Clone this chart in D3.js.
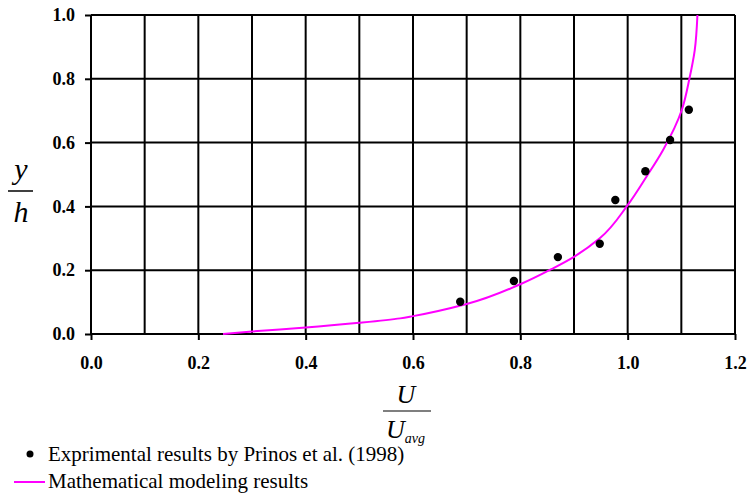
<!DOCTYPE html>
<html>
<head>
<meta charset="utf-8">
<script src="https://cdn.jsdelivr.net/npm/d3@7"></script>
<style>
  body { margin: 0; background: #fff; }
  svg { display: block; }
</style>
</head>
<body>
<div id="chart"></div>
<script>
// measured points (Prinos et al. 1998)
const expU = [0.688, 0.788, 0.870, 0.948, 0.977, 1.033, 1.079, 1.114];
const expY = [0.101, 0.166, 0.241, 0.283, 0.420, 0.510, 0.608, 0.703];

// model curve
const modelU = [0.246, 0.30, 0.40, 0.50, 0.576, 0.60, 0.70, 0.80, 0.861, 0.90, 0.948, 1.00, 1.035, 1.066, 1.101, 1.115, 1.125, 1.130];
const modelY = [0.0, 0.008, 0.020, 0.035, 0.049, 0.056, 0.094, 0.156, 0.206, 0.242, 0.300, 0.404, 0.493, 0.577, 0.703, 0.800, 0.890, 1.0];

const xTicks = [0.0, 0.2, 0.4, 0.6, 0.8, 1.0, 1.2];
const yTicks = [0.0, 0.2, 0.4, 0.6, 0.8, 1.0];
const xGrid = d3.range(0, 1.21, 0.1);

const legendLabels = ['Exprimental results by Prinos et al. (1998)', 'Mathematical modeling results'];

const width = 751, height = 493;
const plotL = 91, plotR = 735, plotT = 15, plotB = 334;
const serif = 'Liberation Serif, Times New Roman, serif';

const svg = d3.select('#chart').append('svg')
  .attr('width', width)
  .attr('height', height)
  .attr('font-family', serif);

const x = d3.scaleLinear().domain([0, 1.2]).range([plotL, plotR]);
const y = d3.scaleLinear().domain([0, 1]).range([plotB, plotT]);

// grid
svg.append('g').selectAll('line')
  .data(xGrid)
  .enter().append('line')
  .attr('x1', d => x(d)).attr('x2', d => x(d))
  .attr('y1', plotT).attr('y2', plotB)
  .attr('stroke', '#000').attr('stroke-width', 2);

svg.append('g').selectAll('line')
  .data(yTicks)
  .enter().append('line')
  .attr('x1', plotL).attr('x2', plotR)
  .attr('y1', d => y(d)).attr('y2', d => y(d))
  .attr('stroke', '#000').attr('stroke-width', 2);

// axes
const xAxis = svg.append('g')
  .attr('transform', 'translate(0,' + plotB + ')')
  .call(d3.axisBottom(x).tickValues(xTicks).tickSize(6).tickPadding(16).tickFormat(d3.format('.1f')));
const yAxis = svg.append('g')
  .attr('transform', 'translate(' + plotL + ',0)')
  .call(d3.axisLeft(y).tickValues(yTicks).tickSize(6).tickPadding(10).tickFormat(d3.format('.1f')));

[xAxis, yAxis].forEach(a => {
  a.attr('font-family', serif).attr('font-size', 18).attr('font-weight', 'bold');
  a.select('.domain').remove();
  a.selectAll('.tick line').attr('stroke-width', 2);
  a.selectAll('text').attr('fill', '#000');
});

// model line
const line = d3.line()
  .x(d => x(d[0]))
  .y(d => y(d[1]))
  .curve(d3.curveMonotoneY);

svg.append('path')
  .datum(d3.zip(modelU, modelY))
  .attr('d', line)
  .attr('fill', 'none')
  .attr('stroke', '#ff00ff')
  .attr('stroke-width', 2);

// experimental points
svg.append('g').selectAll('circle')
  .data(d3.zip(expU, expY))
  .enter().append('circle')
  .attr('cx', d => x(d[0]))
  .attr('cy', d => y(d[1]))
  .attr('r', 4.2)
  .attr('fill', '#000');

// y axis label  y/h
const yl = svg.append('g').attr('font-style', 'italic').attr('font-size', 30);
yl.append('text').attr('x', 21).attr('y', 179).attr('text-anchor', 'middle').text('y');
yl.append('line').attr('x1', 8).attr('x2', 33).attr('y1', 191).attr('y2', 191)
  .attr('stroke', '#000').attr('stroke-width', 1.5);
yl.append('text').attr('x', 21).attr('y', 222).attr('text-anchor', 'middle').text('h');

// x axis label  U/Uavg
const xl = svg.append('g').attr('font-style', 'italic').attr('font-size', 26);
xl.append('text').attr('x', 406).attr('y', 403).attr('text-anchor', 'middle').text('U');
xl.append('line').attr('x1', 383).attr('x2', 431).attr('y1', 411).attr('y2', 411)
  .attr('stroke', '#555').attr('stroke-width', 1.5);
const ua = xl.append('text').attr('x', 386).attr('y', 438);
ua.append('tspan').text('U');
ua.append('tspan').attr('font-size', 14).attr('dy', 5).text('avg');

// legend
svg.append('circle').attr('cx', 30).attr('cy', 454).attr('r', 3.5).attr('fill', '#000');
svg.append('line').attr('x1', 14).attr('x2', 45).attr('y1', 482).attr('y2', 482)
  .attr('stroke', '#ff00ff').attr('stroke-width', 2);
svg.selectAll('.leg')
  .data(legendLabels)
  .enter().append('text')
  .attr('class', 'leg')
  .attr('x', 48)
  .attr('y', (d, i) => 461 + i * 27)
  .attr('font-size', 21)
  .attr('fill', '#000')
  .text(d => d);
</script>
</body>
</html>
